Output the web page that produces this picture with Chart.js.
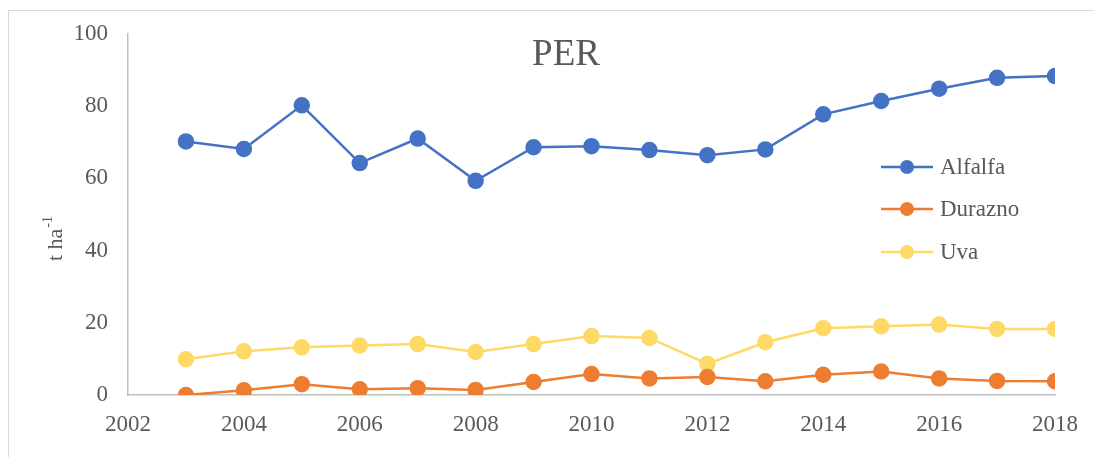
<!DOCTYPE html>
<html>
<head>
<meta charset="utf-8">
<script src="https://cdn.jsdelivr.net/npm/chart.js@4.4.0/dist/chart.umd.min.js"></script>
<style>
  html, body { margin: 0; padding: 0; background: #fff; }
  #wrap { width: 1094px; height: 457px; }
</style>
</head>
<body>
<div id="wrap"><canvas id="chart" width="1094" height="457"></canvas></div>
<script>
// === Data ===
const years = [2003, 2004, 2005, 2006, 2007, 2008, 2009, 2010, 2011, 2012, 2013, 2014, 2015, 2016, 2017, 2018];
const alfalfa = [70.2, 68.1, 80.2, 64.2, 71.0, 59.3, 68.6, 68.9, 67.8, 66.4, 68.0, 77.7, 81.4, 84.8, 87.8, 88.3];
const durazno = [0.0, 1.3, 3.0, 1.6, 1.9, 1.4, 3.6, 5.8, 4.6, 5.0, 3.8, 5.6, 6.5, 4.6, 3.9, 3.8];
const uva = [9.9, 12.1, 13.2, 13.7, 14.1, 11.9, 14.1, 16.3, 15.8, 8.6, 14.6, 18.5, 19.0, 19.5, 18.3, 18.3];
const xTicks = [2002, 2004, 2006, 2008, 2010, 2012, 2014, 2016, 2018];
const yTicks = [0, 20, 40, 60, 80, 100];

const textColor = "#595959";
const serif = "'Liberation Serif', 'Times New Roman', serif";

function toPoints(values) {
  return years.map((y, i) => ({ x: y, y: values[i] }));
}

function makeSeries(label, values, color) {
  return {
    label: label,
    data: toPoints(values),
    borderColor: color,
    backgroundColor: color,
    pointBackgroundColor: color,
    pointBorderColor: color,
    pointRadius: 7,
    pointHoverRadius: 7,
    borderWidth: 2.5,
    tension: 0,
  };
}

// Border, title, y-axis title and legend drawn by hand
const decorations = {
  id: "decorations",
  beforeDraw(chart) {
    const ctx = chart.ctx;
    ctx.save();
    ctx.strokeStyle = "#d9d9d9";
    ctx.lineWidth = 1;
    ctx.strokeRect(8.5, 10.5, 1100, 460);
    ctx.restore();
  },
  afterDraw(chart) {
    const ctx = chart.ctx;
    ctx.save();
    ctx.fillStyle = textColor;

    // title
    ctx.font = "37px " + serif;
    ctx.textAlign = "center";
    ctx.textBaseline = "middle";
    ctx.fillText("PER", 566, 55);

    // y axis title with superscript
    ctx.translate(56, 239);
    ctx.rotate(-Math.PI / 2);
    ctx.font = "22px " + serif;
    const main = "t ha";
    const mainW = ctx.measureText(main).width;
    ctx.font = "14px " + serif;
    const supW = ctx.measureText("-1").width;
    const startX = -(mainW + supW) / 2;
    ctx.textAlign = "left";
    ctx.textBaseline = "middle";
    ctx.font = "22px " + serif;
    ctx.fillText(main, startX, 0);
    ctx.font = "14px " + serif;
    ctx.fillText("-1", startX + mainW + 1, -8);
    ctx.restore();

    // legend
    const rows = [167, 209, 252];
    ctx.save();
    chart.data.datasets.forEach((ds, i) => {
      const y = rows[i];
      ctx.strokeStyle = ds.borderColor;
      ctx.lineWidth = 2.5;
      ctx.beginPath();
      ctx.moveTo(881, y);
      ctx.lineTo(933, y);
      ctx.stroke();
      ctx.fillStyle = ds.borderColor;
      ctx.beginPath();
      ctx.arc(907, y, 7, 0, Math.PI * 2);
      ctx.fill();
      ctx.fillStyle = textColor;
      ctx.font = "23px " + serif;
      ctx.textAlign = "left";
      ctx.textBaseline = "middle";
      ctx.fillText(ds.label, 940, y + 1);
    });
    ctx.restore();
  },
};

const ctx = document.getElementById("chart").getContext("2d");
new Chart(ctx, {
  type: "line",
  data: {
    datasets: [
      makeSeries("Alfalfa", alfalfa, "#4472C4"),
      makeSeries("Durazno", durazno, "#ED7D31"),
      makeSeries("Uva", uva, "#FFD966"),
    ],
  },
  options: {
    responsive: false,
    animation: false,
    layout: { padding: { left: 8, right: 38, top: 32, bottom: 0 } },
    plugins: {
      legend: { display: false },
      title: { display: false },
      tooltip: { enabled: false },
    },
    scales: {
      x: {
        type: "linear",
        min: 2002,
        max: 2018,
        afterBuildTicks: (scale) => {
          scale.ticks = xTicks.map((v) => ({ value: v }));
        },
        afterFit: (scale) => {
          scale.height = 62;
        },
        grid: { display: false, drawTicks: false },
        border: { display: true, color: "#bfbfbf", width: 1.5 },
        ticks: {
          color: textColor,
          font: { family: serif, size: 23 },
          padding: 16,
          maxRotation: 0,
          callback: (v) => String(v),
        },
      },
      y: {
        min: 0,
        max: 100,
        afterBuildTicks: (scale) => {
          scale.ticks = yTicks.map((v) => ({ value: v }));
        },
        afterFit: (scale) => {
          scale.width = 120;
        },
        grid: { display: false, drawTicks: false },
        border: { display: true, color: "#bfbfbf", width: 1.5 },
        ticks: {
          color: textColor,
          font: { family: serif, size: 23 },
          padding: 20,
          callback: (v) => String(v),
        },
      },
    },
  },
  plugins: [decorations],
});
</script>
</body>
</html>
